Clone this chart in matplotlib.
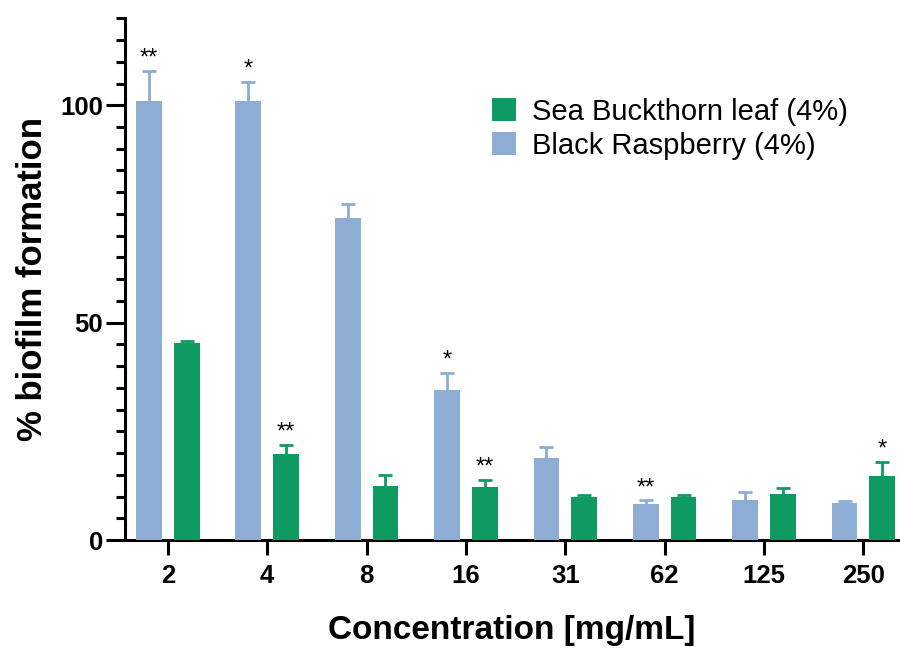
import matplotlib.pyplot as plt
import numpy as np

plt.rcParams['font.family'] = ['Liberation Sans', 'DejaVu Sans']

concentrations = ['2', '4', '8', '16', '31', '62', '125', '250']

raspberry = [101, 101, 74, 34.4, 18.8, 8.4, 9.2, 8.6]
raspberry_err = [6.8, 4.4, 3.4, 4.0, 2.7, 0.7, 1.9, 0.3]

buckthorn = [45.4, 19.8, 12.5, 12.3, 9.8, 9.8, 10.6, 14.8]
buckthorn_err = [0.3, 2.1, 2.5, 1.6, 0.5, 0.5, 1.4, 3.1]

# (group index, series, significance label)
stars = [(0, 'r', '**'), (1, 'r', '*'), (1, 'b', '**'), (3, 'r', '*'),
         (3, 'b', '**'), (5, 'r', '**'), (7, 'b', '*')]

blue = '#8dadd5'
green = '#0f9a61'

fig = plt.figure(figsize=(9, 6.53), dpi=100)
ax = fig.add_axes([0.139, 0.173, 0.859, 0.799])

x = np.arange(len(concentrations))
w = 0.26
off = 0.19

ax.bar(x - off, raspberry, w, color=blue, label='Black Raspberry (4%)', zorder=3)
ax.bar(x + off, buckthorn, w, color=green, label='Sea Buckthorn leaf (4%)', zorder=3)

# symmetric bars drawn behind the columns, so only the upper half shows
ax.errorbar(x - off, raspberry, yerr=raspberry_err, fmt='none', ecolor=blue,
            elinewidth=2, capsize=5, capthick=2, zorder=2)
ax.errorbar(x + off, buckthorn, yerr=buckthorn_err, fmt='none', ecolor=green,
            elinewidth=2, capsize=5, capthick=2, zorder=2)

for i, s, lab in stars:
    if s == 'r':
        xs, top = x[i] - off, raspberry[i] + raspberry_err[i]
    else:
        xs, top = x[i] + off, buckthorn[i] + buckthorn_err[i]
    ax.text(xs, top + 0.3, lab, ha='center', va='bottom', fontsize=17)

ax.set_xlim(-0.43, 7.35)
ax.set_ylim(0, 120)
ax.set_xticks(x)
ax.set_xticklabels(concentrations, fontsize=18.5, fontweight='bold')
ax.set_yticks([0, 50, 100])
ax.set_yticklabels(['0', '50', '100'], fontsize=18.5, fontweight='bold')
ax.set_yticks(np.arange(0, 121, 5), minor=True)
ax.tick_params(axis='y', which='major', length=14, width=2.2, pad=2)
ax.tick_params(axis='y', which='minor', length=6.5, width=2.2)
ax.tick_params(axis='x', which='major', length=11, width=2.2, pad=6)

for side in ['top', 'right']:
    ax.spines[side].set_visible(False)
for side in ['left', 'bottom']:
    ax.spines[side].set_linewidth(2.2)

ax.set_ylabel('% biofilm formation', fontsize=25, fontweight='bold', labelpad=8)
ax.set_xlabel('Concentration [mg/mL]', fontsize=24, fontweight='bold', labelpad=20)

handles, labels = ax.get_legend_handles_labels()
ax.legend(handles[::-1], labels[::-1], loc='upper left',
          bbox_to_anchor=(0.46, 0.87), frameon=False, fontsize=21,
          handlelength=0.82, handleheight=0.82, handletextpad=0.55,
          labelspacing=0.2, borderaxespad=0)

fig.savefig('out.png', dpi=100)
